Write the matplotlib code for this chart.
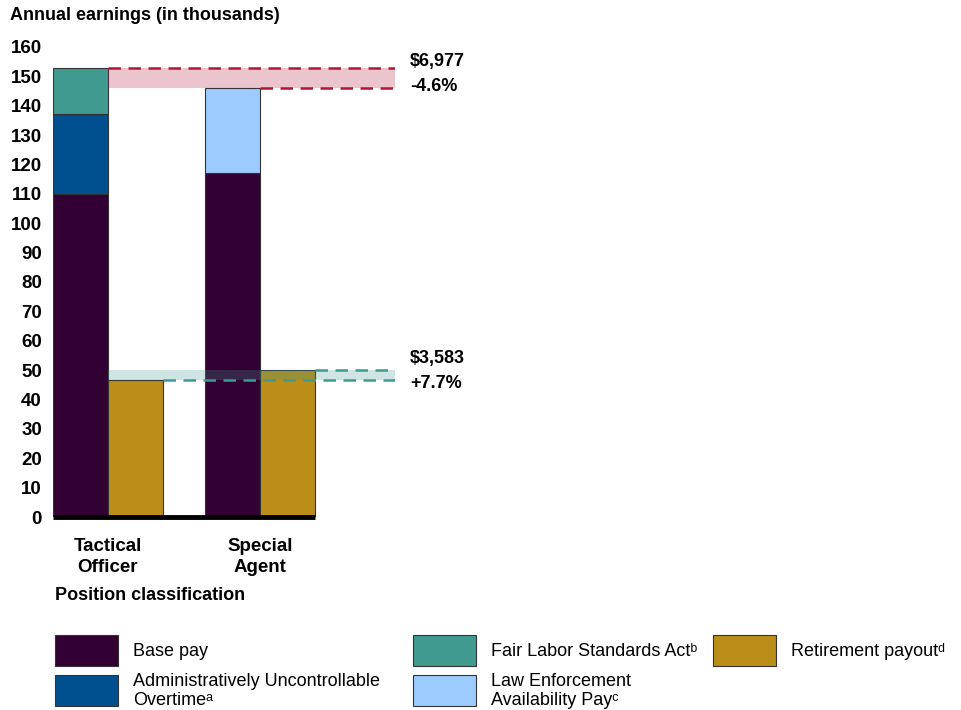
import matplotlib.pyplot as plt
from matplotlib.patches import Rectangle

plt.rcParams['font.family'] = ['Liberation Sans', 'DejaVu Sans']

categories = ["Tactical\nOfficer", "Special\nAgent"]
# earnings in thousands
to_base = 109.8
to_auo = 27.3
to_flsa = 15.8
to_retire = 46.6
sa_base = 117.2
sa_leap = 28.7
sa_retire = 50.2
diff_labels = [("$6,977", "-4.6%"), ("$3,583", "+7.7%")]

legend_names = ["Base pay", "Administratively Uncontrollable\nOvertimeᵃ",
                "Fair Labor Standards Actᵇ", "Law Enforcement\nAvailability Payᶜ",
                "Retirement payoutᵈ"]

c_base = "#330033"
c_auo = "#00508F"
c_flsa = "#409A90"
c_leap = "#9BCBFF"
c_ret = "#BA8E18"
c_red = "#B0163A"
c_teal = "#3E9A92"
edge = "#333333"

fig = plt.figure(figsize=(9.62, 7.10), dpi=100)
ax = fig.add_axes([53 / 962, 193 / 710, 342 / 962, 470 / 710])

x_to, x_sa = 0.0, 2.76
w = 1.0
# stacked bars
ax.bar(x_to, to_base, w, color=c_base, edgecolor=edge, lw=0.8)
ax.bar(x_to, to_auo, w, bottom=to_base, color=c_auo, edgecolor=edge, lw=0.8)
ax.bar(x_to, to_flsa, w, bottom=to_base + to_auo, color=c_flsa, edgecolor=edge, lw=0.8)
ax.bar(x_to + 1, to_retire, w, color=c_ret, edgecolor=edge, lw=0.8)
ax.bar(x_sa, sa_base, w, color=c_base, edgecolor=edge, lw=0.8)
ax.bar(x_sa, sa_leap, w, bottom=sa_base, color=c_leap, edgecolor=edge, lw=0.8)
ax.bar(x_sa + 1, sa_retire, w, color=c_ret, edgecolor=edge, lw=0.8)

to_total = to_base + to_auo + to_flsa
sa_total = sa_base + sa_leap
x_end = 5.72

# difference bands
ax.fill_between([x_to + 0.5, x_end], sa_total, to_total, color=c_red, alpha=0.25, lw=0, zorder=3)
ax.plot([x_to + 0.5, x_end], [to_total] * 2, ls=(0, (5, 3)), color=c_red, lw=1.8, zorder=4)
ax.plot([x_sa + 0.5, x_end], [sa_total] * 2, ls=(0, (5, 3)), color=c_red, lw=1.8, zorder=4)

ax.fill_between([x_to + 0.5, x_end], to_retire, sa_retire, color=c_teal, alpha=0.25, lw=0, zorder=3)
ax.plot([x_to + 1.5, x_end], [to_retire] * 2, ls=(0, (5, 3)), color=c_teal, lw=1.8, zorder=4)
ax.plot([x_sa + 1.5, x_end], [sa_retire] * 2, ls=(0, (5, 3)), color=c_teal, lw=1.8, zorder=4)

for (amt, pct), ymid in zip(diff_labels, [(to_total + sa_total) / 2, (to_retire + sa_retire) / 2]):
    ax.text(x_end + 0.27, ymid + 5.6, amt, fontsize=13, fontweight="bold", va="center", ha="left")
    ax.text(x_end + 0.27, ymid - 2.9, pct, fontsize=13, fontweight="bold", va="center", ha="left")

# baseline
ax.plot([-0.5, x_sa + 1.5], [0, 0], color="black", lw=3.5, clip_on=False, zorder=5,
        solid_capstyle="butt")

ax.set_xlim(-0.5, x_end)
ax.set_ylim(0, 160)
ax.set_yticks(range(0, 161, 10))
ax.set_xticks([x_to + 0.5, x_sa + 0.5])
ax.set_xticklabels(categories, fontsize=13.5, fontweight="bold", linespacing=1.3)
for lab in ax.get_yticklabels():
    lab.set_fontweight("bold")
    lab.set_fontsize(13.5)
ax.tick_params(axis="y", length=0, pad=8)
ax.tick_params(axis="x", length=0, pad=15)
for s in ax.spines.values():
    s.set_visible(False)

fig.text(10 / 962, 1 - 15 / 710, "Annual earnings (in thousands)", fontsize=13,
         fontweight="bold", va="center", ha="left")
fig.text(55 / 962, 1 - 596 / 710, "Position classification", fontsize=13,
         fontweight="bold", va="center", ha="left")

# legend
leg_colors = [c_base, c_auo, c_flsa, c_leap, c_ret]
leg_pos = [(55, 635), (55, 675), (413, 635), (413, 675), (713, 635)]
for name, col, (px, py) in zip(legend_names, leg_colors, leg_pos):
    fig.add_artist(Rectangle((px / 962, 1 - (py + 31) / 710), 63 / 962, 31 / 710,
                             transform=fig.transFigure, facecolor=col, edgecolor=edge, lw=0.8))
    ty = py + 17 if "\n" not in name else py + 16
    fig.text((px + 78) / 962, 1 - ty / 710, name, fontsize=13, va="center",
             ha="left", linespacing=1.2)

fig.savefig("out.png", dpi=100)
